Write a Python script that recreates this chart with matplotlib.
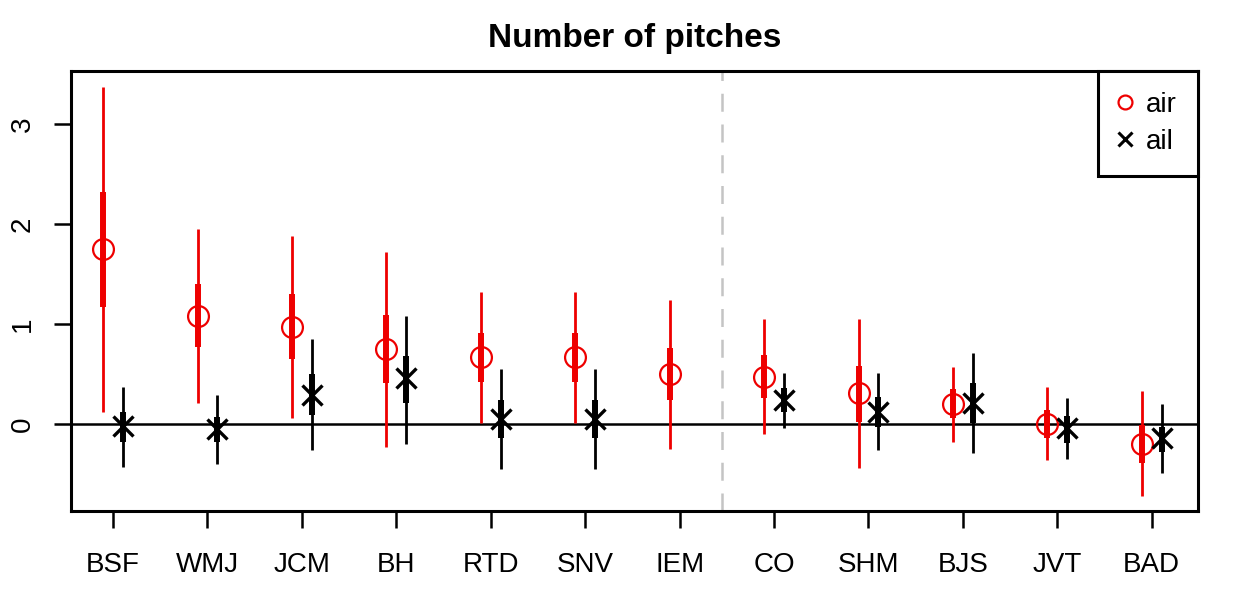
import numpy as np
import matplotlib.pyplot as plt

plt.rcParams['font.family'] = ['Liberation Sans', 'DejaVu Sans']

speakers = ['BSF', 'WMJ', 'JCM', 'BH', 'RTD', 'SNV', 'IEM', 'CO', 'SHM', 'BJS', 'JVT', 'BAD']

# air: estimate, 50% interval, 95% interval
air_est = [1.75, 1.08, 0.97, 0.75, 0.67, 0.67, 0.50, 0.47, 0.31, 0.20, 0.00, -0.20]
air_lo50 = [1.17, 0.77, 0.65, 0.41, 0.42, 0.42, 0.24, 0.26, 0.02, 0.06, -0.14, -0.39]
air_hi50 = [2.32, 1.40, 1.30, 1.09, 0.91, 0.91, 0.76, 0.69, 0.58, 0.35, 0.14, -0.01]
air_lo95 = [0.12, 0.21, 0.06, -0.23, 0.01, 0.01, -0.25, -0.10, -0.44, -0.18, -0.36, -0.72]
air_hi95 = [3.37, 1.95, 1.88, 1.72, 1.32, 1.32, 1.24, 1.05, 1.05, 0.57, 0.37, 0.33]

# ail: IEM has no estimate
ail_est = [-0.02, -0.05, 0.29, 0.46, 0.05, 0.05, np.nan, 0.24, 0.12, 0.21, -0.04, -0.14]
ail_lo50 = [-0.18, -0.18, 0.09, 0.21, -0.14, -0.14, np.nan, 0.12, -0.03, 0.01, -0.19, -0.28]
ail_hi50 = [0.12, 0.07, 0.50, 0.68, 0.24, 0.24, np.nan, 0.36, 0.27, 0.41, 0.08, -0.03]
ail_lo95 = [-0.43, -0.40, -0.26, -0.20, -0.45, -0.45, np.nan, -0.04, -0.26, -0.29, -0.35, -0.49]
ail_hi95 = [0.37, 0.29, 0.85, 1.08, 0.55, 0.55, np.nan, 0.51, 0.51, 0.71, 0.26, 0.20]

x = np.arange(1, len(speakers) + 1)
off = 0.105

fig = plt.figure(figsize=(12.33, 5.99), dpi=100)
ax = fig.add_axes([0.0576, 0.1469, 0.9140, 0.7346])

ax.axhline(0, color='black', lw=1.8, zorder=1)
ax.axvline(7.45, color='#c4c4c4', lw=1.8, ls=(0, (7.2, 5.1)), zorder=1)

ax.vlines(x - off, air_lo95, air_hi95, color='#ee0000', lw=2.0, zorder=2)
ax.vlines(x - off, air_lo50, air_hi50, color='#ee0000', lw=4.3, zorder=2)
ax.plot(x - off, air_est, 'o', ms=15, mfc='none', mec='#ee0000', mew=1.6, zorder=3)

ax.vlines(x + off, ail_lo95, ail_hi95, color='black', lw=2.0, zorder=2)
ax.vlines(x + off, ail_lo50, ail_hi50, color='black', lw=4.3, zorder=2)
ax.plot(x + off, ail_est, 'x', ms=15, mec='black', mew=2.4, zorder=3)

ax.set_xlim(0.555, 12.49)
ax.set_ylim(-0.87, 3.53)
ax.set_xticks(x)
ax.set_xticklabels(speakers, fontsize=20)
ax.set_yticks([0, 1, 2, 3])
ax.set_yticklabels(['0', '1', '2', '3'], fontsize=20, rotation=90, va='center')
ax.tick_params(length=12.5, width=1.8)
ax.tick_params(axis='x', pad=17)
ax.tick_params(axis='y', pad=13)
for s in ax.spines.values():
    s.set_linewidth(2.2)

ax.set_title('Number of pitches', fontsize=24, fontweight='bold', pad=17)

h1, = ax.plot([], [], 'o', ms=10, mfc='none', mec='#ee0000', mew=1.6)
h2, = ax.plot([], [], 'x', ms=10, mec='black', mew=2.2)
leg = ax.legend([h1, h2], ['air', 'ail'], loc='upper right', fontsize=20,
                frameon=True, fancybox=False, borderaxespad=0, handlelength=0.5,
                handletextpad=0.5, borderpad=0.75, labelspacing=0.4)
leg.get_frame().set_edgecolor('black')
leg.get_frame().set_linewidth(2.2)
leg.get_frame().set_alpha(1)

fig.savefig('out.png', dpi=100)
